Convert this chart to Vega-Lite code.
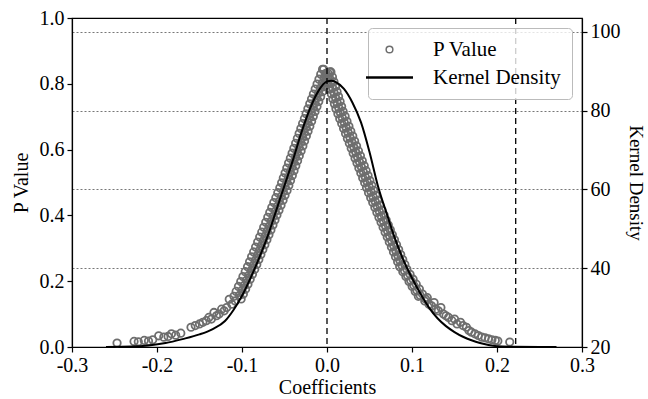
{
"$schema": "https://vega.github.io/schema/vega-lite/v6.json",
"width": 510, "height": 329,
"autosize": {"type": "none"},
"padding": {"left": 72, "top": 18, "right": 66, "bottom": 52},
"config": {
 "font": "Liberation Serif",
 "view": {"stroke": "black", "strokeWidth": 1.2},
 "axis": {"labelFont": "Liberation Serif", "titleFont": "Liberation Serif", "labelFontSize": 20, "titleFontSize": 20, "titleFontWeight": "normal", "labelColor": "black", "titleColor": "black", "domainColor": "black", "tickColor": "black", "domainWidth": 1.2, "tickWidth": 1.2, "tickSize": 5, "labelPadding": 3},
 "legend": {"labelFont": "Liberation Serif", "labelFontSize": 21, "labelColor": "black", "strokeColor": "#bbbbbb", "fillColor": "rgba(255,255,255,0.8)", "cornerRadius": 4, "padding": 11, "rowPadding": 6, "symbolSize": 2209, "labelOffset": 33}
},
"datasets": {
 "pts": [
  {"c":-0.0052,"p":0.844},{"c":0.0033,"p":0.836},{"c":-0.0074,"p":0.829},{"c":0.0011,"p":0.821},{"c":-0.0095,"p":0.814},{"c":-0.001,"p":0.806},{"c":-0.0117,"p":0.799},{"c":-0.0032,"p":0.791},{"c":-0.0139,"p":0.784},{"c":-0.0054,"p":0.776},{"c":-0.016,"p":0.769},{"c":-0.0075,"p":0.761},{"c":-0.0182,"p":0.754},{"c":-0.0097,"p":0.746},{"c":-0.0203,"p":0.739},{"c":-0.0118,"p":0.731},{"c":-0.0225,"p":0.724},{"c":-0.014,"p":0.716},{"c":-0.0246,"p":0.709},{"c":-0.0161,"p":0.701},{"c":-0.0266,"p":0.694},{"c":-0.0181,"p":0.686},{"c":-0.0287,"p":0.679},{"c":-0.0202,"p":0.671},{"c":-0.0308,"p":0.664},{"c":-0.0223,"p":0.656},{"c":-0.0328,"p":0.649},{"c":-0.0243,"p":0.641},{"c":-0.0349,"p":0.634},{"c":-0.0264,"p":0.626},{"c":-0.0369,"p":0.619},{"c":-0.0284,"p":0.611},{"c":-0.039,"p":0.604},{"c":-0.0305,"p":0.596},{"c":-0.0411,"p":0.589},{"c":-0.0326,"p":0.581},{"c":-0.0431,"p":0.574},{"c":-0.0346,"p":0.566},{"c":-0.0452,"p":0.559},{"c":-0.0367,"p":0.551},{"c":-0.0473,"p":0.544},{"c":-0.0388,"p":0.536},{"c":-0.0493,"p":0.529},{"c":-0.0408,"p":0.521},{"c":-0.0514,"p":0.514},{"c":-0.0429,"p":0.506},{"c":-0.0534,"p":0.499},{"c":-0.0449,"p":0.491},{"c":-0.0555,"p":0.484},{"c":-0.047,"p":0.476},{"c":-0.0579,"p":0.469},{"c":-0.0494,"p":0.461},{"c":-0.0602,"p":0.454},{"c":-0.0517,"p":0.446},{"c":-0.0626,"p":0.439},{"c":-0.0541,"p":0.431},{"c":-0.065,"p":0.424},{"c":-0.0565,"p":0.416},{"c":-0.0674,"p":0.409},{"c":-0.0589,"p":0.401},{"c":-0.0697,"p":0.394},{"c":-0.0612,"p":0.386},{"c":-0.0721,"p":0.379},{"c":-0.0636,"p":0.371},{"c":-0.0745,"p":0.364},{"c":-0.066,"p":0.356},{"c":-0.0768,"p":0.349},{"c":-0.0683,"p":0.341},{"c":-0.0792,"p":0.334},{"c":-0.0707,"p":0.326},{"c":-0.0816,"p":0.319},{"c":-0.0731,"p":0.311},{"c":-0.084,"p":0.304},{"c":-0.0755,"p":0.296},{"c":-0.0863,"p":0.289},{"c":-0.0778,"p":0.281},{"c":-0.0887,"p":0.274},{"c":-0.0802,"p":0.266},{"c":-0.0911,"p":0.259},{"c":-0.0826,"p":0.251},{"c":-0.0935,"p":0.244},{"c":-0.085,"p":0.236},{"c":-0.0962,"p":0.229},{"c":-0.0877,"p":0.221},{"c":-0.0989,"p":0.214},{"c":-0.0904,"p":0.206},{"c":-0.1015,"p":0.199},{"c":-0.093,"p":0.191},{"c":-0.1042,"p":0.184},{"c":-0.0957,"p":0.176},{"c":-0.1069,"p":0.169},{"c":-0.0984,"p":0.161},{"c":-0.1095,"p":0.154},{"c":-0.101,"p":0.146},
  {"c":-0.0012,"p":0.832},{"c":-0.0034,"p":0.817},{"c":-0.0055,"p":0.802},{"c":-0.0077,"p":0.787},{"c":-0.0099,"p":0.772},{"c":-0.012,"p":0.757},{"c":-0.0142,"p":0.742},{"c":-0.0163,"p":0.727},{"c":-0.0185,"p":0.712},{"c":-0.0206,"p":0.697},{"c":-0.0226,"p":0.682},{"c":-0.0247,"p":0.667},{"c":-0.0268,"p":0.652},{"c":-0.0288,"p":0.637},{"c":-0.0309,"p":0.622},{"c":-0.0329,"p":0.607},{"c":-0.035,"p":0.592},{"c":-0.0371,"p":0.577},{"c":-0.0391,"p":0.562},{"c":-0.0412,"p":0.547},{"c":-0.0433,"p":0.532},{"c":-0.0453,"p":0.517},{"c":-0.0474,"p":0.502},{"c":-0.0494,"p":0.487},{"c":-0.0515,"p":0.472},{"c":-0.0539,"p":0.457},{"c":-0.0562,"p":0.442},{"c":-0.0586,"p":0.427},{"c":-0.061,"p":0.412},{"c":-0.0634,"p":0.397},{"c":-0.0657,"p":0.382},{"c":-0.0681,"p":0.367},{"c":-0.0705,"p":0.352},{"c":-0.0728,"p":0.337},{"c":-0.0752,"p":0.322},{"c":-0.0776,"p":0.307},{"c":-0.08,"p":0.292},{"c":-0.0823,"p":0.277},{"c":-0.0847,"p":0.262},{"c":-0.0871,"p":0.247},{"c":-0.0895,"p":0.232},{"c":-0.0922,"p":0.217},{"c":-0.0949,"p":0.202},{"c":-0.0975,"p":0.187},{"c":-0.1002,"p":0.172},{"c":-0.1029,"p":0.157},
  {"c":-0.108,"p":0.14},{"c":-0.112,"p":0.13},{"c":-0.115,"p":0.145},{"c":-0.118,"p":0.12},{"c":-0.121,"p":0.11},{"c":-0.124,"p":0.115},{"c":-0.127,"p":0.1},{"c":-0.13,"p":0.095},{"c":-0.133,"p":0.105},{"c":-0.136,"p":0.085},{"c":-0.139,"p":0.09},{"c":-0.142,"p":0.08},{"c":-0.146,"p":0.075},{"c":-0.15,"p":0.07},{"c":-0.155,"p":0.065},{"c":-0.16,"p":0.06},{"c":-0.172,"p":0.042},{"c":-0.178,"p":0.036},{"c":-0.183,"p":0.04},{"c":-0.187,"p":0.032},{"c":-0.192,"p":0.03},{"c":-0.198,"p":0.034},{"c":-0.205,"p":0.022},{"c":-0.21,"p":0.018},{"c":-0.215,"p":0.02},{"c":-0.222,"p":0.016},{"c":-0.227,"p":0.017},{"c":-0.247,"p":0.012},
  {"c":-0.0039,"p":0.844},{"c":0.0046,"p":0.836},{"c":-0.0021,"p":0.829},{"c":0.0064,"p":0.821},{"c":-0.0003,"p":0.814},{"c":0.0082,"p":0.806},{"c":0.0015,"p":0.799},{"c":0.01,"p":0.791},{"c":0.0033,"p":0.784},{"c":0.0118,"p":0.776},{"c":0.0051,"p":0.769},{"c":0.0136,"p":0.761},{"c":0.0069,"p":0.754},{"c":0.0154,"p":0.746},{"c":0.0087,"p":0.739},{"c":0.0172,"p":0.731},{"c":0.0105,"p":0.724},{"c":0.019,"p":0.716},{"c":0.0128,"p":0.709},{"c":0.0213,"p":0.701},{"c":0.015,"p":0.694},{"c":0.0235,"p":0.686},{"c":0.0173,"p":0.679},{"c":0.0258,"p":0.671},{"c":0.0195,"p":0.664},{"c":0.028,"p":0.656},{"c":0.0218,"p":0.649},{"c":0.0303,"p":0.641},{"c":0.024,"p":0.634},{"c":0.0325,"p":0.626},{"c":0.0263,"p":0.619},{"c":0.0348,"p":0.611},{"c":0.0285,"p":0.604},{"c":0.037,"p":0.596},{"c":0.0308,"p":0.589},{"c":0.0393,"p":0.581},{"c":0.033,"p":0.574},{"c":0.0415,"p":0.566},{"c":0.0353,"p":0.559},{"c":0.0438,"p":0.551},{"c":0.0375,"p":0.544},{"c":0.046,"p":0.536},{"c":0.0398,"p":0.529},{"c":0.0483,"p":0.521},{"c":0.042,"p":0.514},{"c":0.0505,"p":0.506},{"c":0.0443,"p":0.499},{"c":0.0528,"p":0.491},{"c":0.0465,"p":0.484},{"c":0.055,"p":0.476},{"c":0.0489,"p":0.469},{"c":0.0574,"p":0.461},{"c":0.0514,"p":0.454},{"c":0.0599,"p":0.446},{"c":0.0538,"p":0.439},{"c":0.0623,"p":0.431},{"c":0.0563,"p":0.424},{"c":0.0648,"p":0.416},{"c":0.0587,"p":0.409},{"c":0.0672,"p":0.401},{"c":0.0611,"p":0.394},{"c":0.0696,"p":0.386},{"c":0.0636,"p":0.379},{"c":0.0721,"p":0.371},{"c":0.066,"p":0.364},{"c":0.0745,"p":0.356},{"c":0.0684,"p":0.349},{"c":0.0769,"p":0.341},{"c":0.0709,"p":0.334},{"c":0.0794,"p":0.326},{"c":0.0733,"p":0.319},{"c":0.0818,"p":0.311},{"c":0.0758,"p":0.304},{"c":0.0843,"p":0.296},{"c":0.0782,"p":0.289},{"c":0.0867,"p":0.281},{"c":0.0806,"p":0.274},{"c":0.0891,"p":0.266},{"c":0.0831,"p":0.259},{"c":0.0916,"p":0.251},{"c":0.0855,"p":0.244},{"c":0.094,"p":0.236},{"c":0.0892,"p":0.229},{"c":0.0977,"p":0.221},{"c":0.0928,"p":0.214},{"c":0.1013,"p":0.206},{"c":0.0965,"p":0.199},{"c":0.105,"p":0.191},{"c":0.1002,"p":0.184},{"c":0.1087,"p":0.176},{"c":0.1038,"p":0.169},{"c":0.1123,"p":0.161},{"c":0.1075,"p":0.154},{"c":0.116,"p":0.146},
  {"c":0.0012,"p":0.832},{"c":0.003,"p":0.817},{"c":0.0048,"p":0.802},{"c":0.0066,"p":0.787},{"c":0.0084,"p":0.772},{"c":0.0102,"p":0.757},{"c":0.012,"p":0.742},{"c":0.0138,"p":0.727},{"c":0.0158,"p":0.712},{"c":0.018,"p":0.697},{"c":0.0203,"p":0.682},{"c":0.0225,"p":0.667},{"c":0.0248,"p":0.652},{"c":0.027,"p":0.637},{"c":0.0293,"p":0.622},{"c":0.0315,"p":0.607},{"c":0.0338,"p":0.592},{"c":0.036,"p":0.577},{"c":0.0383,"p":0.562},{"c":0.0405,"p":0.547},{"c":0.0428,"p":0.532},{"c":0.045,"p":0.517},{"c":0.0473,"p":0.502},{"c":0.0495,"p":0.487},{"c":0.0518,"p":0.472},{"c":0.0542,"p":0.457},{"c":0.0567,"p":0.442},{"c":0.0591,"p":0.427},{"c":0.0616,"p":0.412},{"c":0.064,"p":0.397},{"c":0.0664,"p":0.382},{"c":0.0689,"p":0.367},{"c":0.0713,"p":0.352},{"c":0.0737,"p":0.337},{"c":0.0762,"p":0.322},{"c":0.0786,"p":0.307},{"c":0.0811,"p":0.292},{"c":0.0835,"p":0.277},{"c":0.0859,"p":0.262},{"c":0.0884,"p":0.247},{"c":0.0912,"p":0.232},{"c":0.0948,"p":0.217},{"c":0.0985,"p":0.202},{"c":0.1022,"p":0.187},{"c":0.1058,"p":0.172},{"c":0.1095,"p":0.157},
  {"c":0.115,"p":0.14},{"c":0.118,"p":0.15},{"c":0.12,"p":0.13},{"c":0.123,"p":0.125},{"c":0.126,"p":0.135},{"c":0.128,"p":0.115},{"c":0.131,"p":0.11},{"c":0.134,"p":0.12},{"c":0.137,"p":0.1},{"c":0.14,"p":0.095},{"c":0.143,"p":0.09},{"c":0.147,"p":0.08},{"c":0.15,"p":0.085},{"c":0.153,"p":0.07},{"c":0.157,"p":0.075},{"c":0.16,"p":0.065},{"c":0.164,"p":0.06},{"c":0.167,"p":0.05},{"c":0.17,"p":0.045},{"c":0.174,"p":0.04},{"c":0.178,"p":0.035},{"c":0.182,"p":0.03},{"c":0.186,"p":0.028},{"c":0.19,"p":0.025},{"c":0.194,"p":0.022},{"c":0.198,"p":0.02},{"c":0.201,"p":0.018},{"c":0.215,"p":0.015}
 ],
 "kde": [
  {"c":-0.26,"d":20.0},{"c":-0.23,"d":20.1},{"c":-0.21,"d":20.4},{"c":-0.19,"d":21.0},{"c":-0.17,"d":22.0},{"c":-0.15,"d":23.2},{"c":-0.135,"d":24.5},{"c":-0.12,"d":26.6},{"c":-0.11,"d":29.4},{"c":-0.1,"d":33.0},{"c":-0.09,"d":37.5},{"c":-0.08,"d":42.5},{"c":-0.07,"d":48.0},{"c":-0.06,"d":54.5},{"c":-0.05,"d":61.0},{"c":-0.04,"d":67.5},{"c":-0.03,"d":74.5},{"c":-0.02,"d":80.5},{"c":-0.01,"d":85.0},{"c":0.0,"d":87.4},{"c":0.005,"d":87.6},{"c":0.01,"d":87.3},{"c":0.02,"d":85.5},{"c":0.03,"d":82.0},{"c":0.04,"d":77.0},{"c":0.05,"d":69.5},{"c":0.06,"d":60.8},{"c":0.07,"d":54.0},{"c":0.08,"d":47.5},{"c":0.09,"d":42.0},{"c":0.1,"d":37.5},{"c":0.11,"d":33.5},{"c":0.12,"d":30.0},{"c":0.13,"d":27.3},{"c":0.14,"d":25.3},{"c":0.15,"d":23.8},{"c":0.16,"d":22.6},{"c":0.17,"d":21.7},{"c":0.18,"d":21.0},{"c":0.19,"d":20.5},{"c":0.2,"d":20.2},{"c":0.22,"d":20.05},{"c":0.25,"d":20.0},{"c":0.27,"d":20.0}
 ],
 "vl": [{"c": 0}, {"c": 0.222}],
 "hl": [{"p": 0.1}]
},
"encoding": {
 "x": {"field": "c", "type": "quantitative", "scale": {"domain": [-0.3, 0.3], "nice": false, "zero": false}, "axis": {"title": "Coefficients", "values": [-0.3, -0.2, -0.1, 0, 0.1, 0.2, 0.3], "grid": false, "labelExpr": "replace(format(datum.value, '.1f'), '\u2212', '-')", "titlePadding": 2, "labelFlush": false}}
},
"layer": [
 {
  "layer": [
   {"data": {"name": "pts"}, "mark": {"type": "point", "shape": "circle", "filled": false, "size": 55, "strokeWidth": 1.8, "opacity": 1},
    "encoding": {
     "y": {"field": "p", "type": "quantitative", "scale": {"domain": [0, 1], "nice": false}, "axis": {"orient": "left", "title": "P Value", "values": [0, 0.2, 0.4, 0.6, 0.8, 1.0], "format": ".1f", "grid": false, "titlePadding": 8, "labelFlush": false}},
     "color": {"datum": "P Value", "type": "nominal", "scale": {"domain": ["P Value", "Kernel Density"], "range": ["#6e6e6e", "#000000"]},
      "legend": {"title": null, "orient": "top-right", "offset": 10,
       "encode": {"symbols": {"update": {
        "shape": {"signal": "datum.value === 'P Value' ? 'circle' : 'stroke'"},
        "size": {"signal": "datum.value === 'P Value' ? 45 : 2209"},
        "strokeWidth": {"signal": "datum.value === 'P Value' ? 1.5 : 2.5"},
        "fill": {"value": "transparent"},
        "stroke": {"signal": "datum.value === 'P Value' ? '#6e6e6e' : '#000000'"}
       }}}}}
    }},
   {"data": {"name": "hl"}, "mark": {"type": "rule", "color": "black", "strokeDash": [6, 4], "strokeWidth": 1.3},
    "encoding": {"y": {"field": "p", "type": "quantitative"}}},
   {"data": {"name": "vl"}, "mark": {"type": "rule", "color": "black", "strokeDash": [6, 4], "strokeWidth": 1.3}, "encoding": {}}
  ]
 },
 {
  "data": {"name": "kde"}, "mark": {"type": "line", "strokeWidth": 2, "interpolate": "monotone"},
  "encoding": {
   "y": {"field": "d", "type": "quantitative", "scale": {"domain": [20, 103.5], "nice": false, "zero": false}, "axis": {"orient": "right", "title": "Kernel Density", "titleColor": "#000000", "values": [20, 40, 60, 80, 100], "grid": true, "gridDash": [2, 2], "gridColor": "#777777", "gridWidth": 1, "titlePadding": 5, "titleFontSize": 19, "labelFlush": false}},
   "color": {"datum": "Kernel Density", "type": "nominal",
      "legend": {"title": null, "orient": "top-right", "offset": 10,
       "encode": {"symbols": {"update": {
        "shape": {"signal": "datum.value === 'P Value' ? 'circle' : 'stroke'"},
        "size": {"signal": "datum.value === 'P Value' ? 45 : 2209"},
        "strokeWidth": {"signal": "datum.value === 'P Value' ? 1.5 : 2.5"},
        "fill": {"value": "transparent"},
        "stroke": {"signal": "datum.value === 'P Value' ? '#6e6e6e' : '#000000'"}
       }}}}}
  }
 }
],
"resolve": {"scale": {"y": "independent"}}
}
